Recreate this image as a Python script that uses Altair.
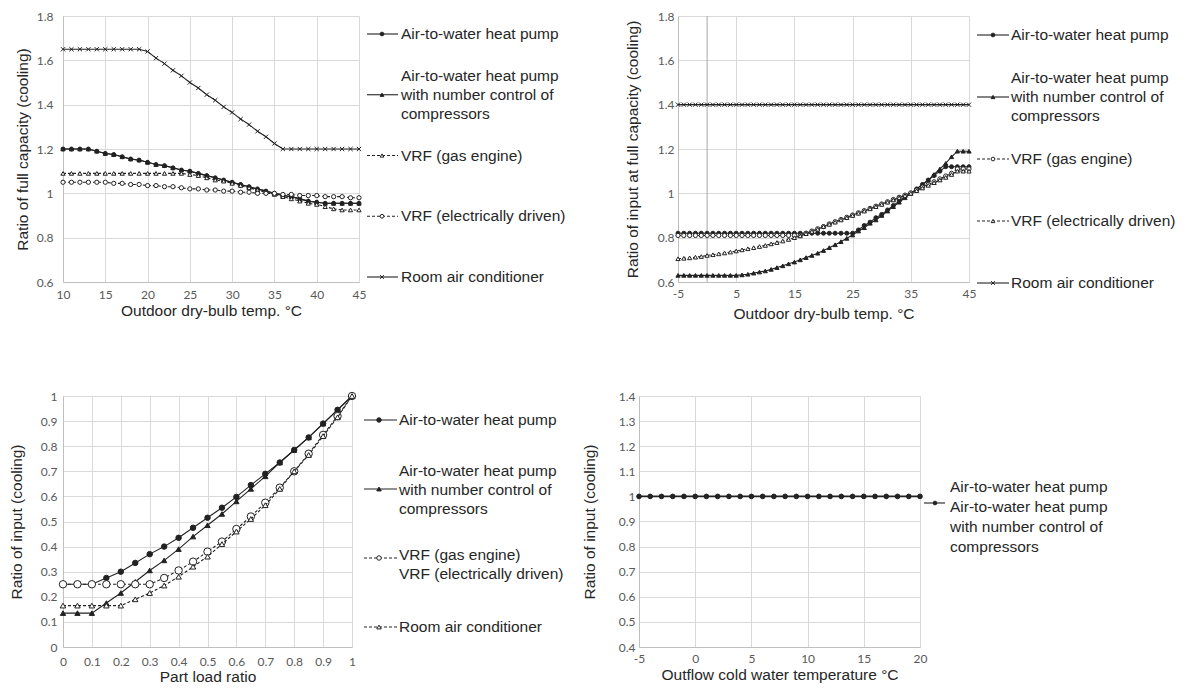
import altair as alt
import pandas as pd

# ---------------- data ----------------
# Top-left: ratio of full capacity (cooling) vs outdoor dry-bulb temp
tl_x = list(range(10, 46))
tl_hp = [1.20, 1.20, 1.20, 1.20, 1.19, 1.18, 1.175, 1.165, 1.155, 1.15,
         1.14, 1.13, 1.125, 1.115, 1.105, 1.10, 1.09, 1.08, 1.07, 1.06,
         1.05, 1.04, 1.03, 1.02, 1.01, 1.00, 0.99, 0.985, 0.975, 0.965,
         0.96, 0.955, 0.955, 0.955, 0.955, 0.955]
tl_nc = [1.20, 1.20, 1.20, 1.20, 1.19, 1.18, 1.175, 1.165, 1.155, 1.15,
         1.14, 1.13, 1.125, 1.115, 1.105, 1.10, 1.09, 1.08, 1.07, 1.06,
         1.05, 1.04, 1.03, 1.02, 1.01, 1.00, 0.99, 0.985, 0.975, 0.965,
         0.96, 0.955, 0.955, 0.955, 0.955, 0.955]
tl_gas = [1.09, 1.09, 1.09, 1.09, 1.09, 1.09, 1.09, 1.09, 1.09, 1.09,
          1.09, 1.09, 1.09, 1.09, 1.09, 1.085, 1.08, 1.07, 1.06, 1.055,
          1.045, 1.035, 1.025, 1.015, 1.005, 0.995, 0.985, 0.975, 0.965, 0.955,
          0.95, 0.94, 0.93, 0.925, 0.925, 0.925]
tl_elec = [1.05, 1.05, 1.05, 1.05, 1.05, 1.05, 1.045, 1.045, 1.04, 1.04,
           1.035, 1.035, 1.03, 1.03, 1.025, 1.02, 1.02, 1.015, 1.015, 1.01,
           1.01, 1.005, 1.005, 1.0, 1.0, 1.0, 0.995, 0.995, 0.99, 0.99,
           0.99, 0.985, 0.985, 0.985, 0.98, 0.98]
tl_rac = [1.65, 1.65, 1.65, 1.65, 1.65, 1.65, 1.65, 1.65, 1.65, 1.65,
          1.64, 1.61, 1.585, 1.555, 1.53, 1.50, 1.475, 1.445, 1.42, 1.39,
          1.365, 1.335, 1.31, 1.28, 1.255, 1.225, 1.20, 1.20, 1.20, 1.20,
          1.20, 1.20, 1.20, 1.20, 1.20, 1.20]

# Top-right: ratio of input at full capacity (cooling)
tr_x = list(range(-5, 46))
tr_hp = [0.82, 0.82, 0.82, 0.82, 0.82, 0.82, 0.82, 0.82, 0.82, 0.82,
         0.82, 0.82, 0.82, 0.82, 0.82, 0.82, 0.82, 0.82, 0.82, 0.82,
         0.82, 0.82, 0.82, 0.82, 0.82, 0.82, 0.82, 0.82, 0.82, 0.82,
         0.82, 0.835, 0.855, 0.87, 0.89, 0.905, 0.925, 0.945, 0.965, 0.985,
         1.0, 1.02, 1.04, 1.06, 1.08, 1.10, 1.12, 1.12, 1.12, 1.12,
         1.12]
tr_nc = [0.63, 0.63, 0.63, 0.63, 0.63, 0.63, 0.63, 0.63, 0.63, 0.63,
         0.63, 0.632, 0.635, 0.64, 0.645, 0.65, 0.657, 0.665, 0.673, 0.682,
         0.69, 0.70, 0.71, 0.72, 0.73, 0.742, 0.755, 0.768, 0.782, 0.797,
         0.812, 0.83, 0.845, 0.865, 0.88, 0.90, 0.92, 0.94, 0.96, 0.98,
         1.0, 1.02, 1.04, 1.06, 1.085, 1.11, 1.135, 1.165, 1.19, 1.19,
         1.19]
tr_gas = [0.81, 0.81, 0.81, 0.81, 0.81, 0.81, 0.81, 0.81, 0.81, 0.81,
          0.81, 0.81, 0.81, 0.81, 0.81, 0.81, 0.81, 0.81, 0.81, 0.81,
          0.81, 0.81, 0.82, 0.83, 0.84, 0.85, 0.862, 0.872, 0.882, 0.892,
          0.902, 0.912, 0.922, 0.932, 0.942, 0.952, 0.962, 0.972, 0.982, 0.992,
          1.002, 1.015, 1.028, 1.04, 1.052, 1.065, 1.078, 1.09, 1.11, 1.11,
          1.11]
tr_elec = [0.705, 0.707, 0.709, 0.712, 0.715, 0.72, 0.723, 0.727, 0.731, 0.735,
           0.74, 0.745, 0.75, 0.755, 0.76, 0.765, 0.772, 0.778, 0.785, 0.792,
           0.80, 0.808, 0.818, 0.828, 0.838, 0.85, 0.86, 0.87, 0.88, 0.89,
           0.90, 0.91, 0.92, 0.93, 0.94, 0.95, 0.96, 0.97, 0.98, 0.99,
           1.0, 1.012, 1.024, 1.036, 1.048, 1.06, 1.072, 1.085, 1.10, 1.10,
           1.10]
tr_rac = [1.4, 1.4, 1.4, 1.4, 1.4, 1.4, 1.4, 1.4, 1.4, 1.4,
          1.4, 1.4, 1.4, 1.4, 1.4, 1.4, 1.4, 1.4, 1.4, 1.4,
          1.4, 1.4, 1.4, 1.4, 1.4, 1.4, 1.4, 1.4, 1.4, 1.4,
          1.4, 1.4, 1.4, 1.4, 1.4, 1.4, 1.4, 1.4, 1.4, 1.4,
          1.4, 1.4, 1.4, 1.4, 1.4, 1.4, 1.4, 1.4, 1.4, 1.4,
          1.4]
tr_zero = [0]

# Bottom-left: ratio of input (cooling) vs part load ratio
bl_x = [0.0, 0.05, 0.1, 0.15, 0.2, 0.25, 0.3, 0.35, 0.4, 0.45, 0.5,
        0.55, 0.6, 0.65, 0.7, 0.75, 0.8, 0.85, 0.9, 0.95, 1.0]
bl_hp = [0.25, 0.25, 0.25, 0.275, 0.30, 0.335, 0.37, 0.40, 0.435, 0.475, 0.515,
         0.555, 0.598, 0.645, 0.69, 0.735, 0.785, 0.835, 0.89, 0.945, 1.0]
bl_nc = [0.135, 0.135, 0.135, 0.175, 0.215, 0.26, 0.305, 0.345, 0.39, 0.44, 0.485,
         0.53, 0.58, 0.63, 0.68, 0.735, 0.785, 0.835, 0.89, 0.945, 1.0]
bl_vrf = [0.25, 0.25, 0.25, 0.25, 0.25, 0.25, 0.25, 0.275, 0.305, 0.34, 0.38,
          0.42, 0.47, 0.52, 0.575, 0.635, 0.70, 0.77, 0.845, 0.92, 1.0]
bl_rac = [0.165, 0.165, 0.165, 0.165, 0.165, 0.19, 0.215, 0.245, 0.28, 0.32, 0.36,
          0.41, 0.46, 0.51, 0.565, 0.63, 0.70, 0.765, 0.84, 0.915, 1.0]

# Bottom-right: ratio of input (cooling) vs outflow cold water temperature
br_x = list(range(-5, 21))
br_hp = [1.0, 1.0, 1.0, 1.0, 1.0, 1.0, 1.0, 1.0, 1.0, 1.0,
         1.0, 1.0, 1.0, 1.0, 1.0, 1.0, 1.0, 1.0, 1.0, 1.0,
         1.0, 1.0, 1.0, 1.0, 1.0, 1.0]

# tick values
tl_xticks = [10, 15, 20, 25, 30, 35, 40, 45]
tl_yticks = [0.6, 0.8, 1.0, 1.2, 1.4, 1.6, 1.8]
tr_xticks = [-5, 0, 5, 10, 15, 20, 25, 30, 35, 40, 45]
tr_yticks = [0.6, 0.8, 1.0, 1.2, 1.4, 1.6, 1.8]
bl_xticks = [0, 0.1, 0.2, 0.3, 0.4, 0.5, 0.6, 0.7, 0.8, 0.9, 1.0]
bl_yticks = [0, 0.1, 0.2, 0.3, 0.4, 0.5, 0.6, 0.7, 0.8, 0.9, 1.0]
br_xticks = [-5, 0, 5, 10, 15, 20]
br_yticks = [0.4, 0.5, 0.6, 0.7, 0.8, 0.9, 1.0, 1.1, 1.2, 1.3, 1.4]

# legend labels
L_HP = "Air-to-water heat pump"
L_NC = "Air-to-water heat pump\nwith number control of\ncompressors"
L_GAS = "VRF (gas engine)"
L_ELEC = "VRF (electrically driven)"
L_RAC = "Room air conditioner"
L_VRF2 = "VRF (gas engine)\nVRF (electrically driven)"
L_BR = "Air-to-water heat pump\nAir-to-water heat pump\nwith number control of\ncompressors"

# ---------------- styling ----------------
INK = "#222222"
XMARK = "M-1,-1L1,1M-1,1L1,-1"
DASH = [3, 2]
TEXT_FONT = "Liberation Sans"
TEXT_SIZE = 15.5


def style(key, label, vals, shape, fill, dash, size):
    return {"key": key, "label": label, "vals": vals, "shape": shape,
            "fill": fill, "dash": dash, "size": size}


def make_axis(values, title, lpad, tpad):
    return alt.Axis(values=values, title=title, grid=True, ticks=False,
                    labelPadding=lpad, titlePadding=tpad,
                    labelExpr="'' + datum.value",
                    labelFlush=False, labelOverlap=False)


def panel(x, styles, xdom, xticks, xtitle, xpads, ydom, yticks, ytitle, ypads,
          w, h, lw=1.1, extra=None):
    rows = []
    for st in styles:
        for xi, yi in zip(x, st["vals"]):
            rows.append({"series": st["key"], "x": xi, "y": yi})
    df = pd.DataFrame(rows)
    xenc = alt.X("x:Q", scale=alt.Scale(domain=xdom, nice=False, zero=False),
                 axis=make_axis(xticks, xtitle, *xpads))
    yenc = alt.Y("y:Q", scale=alt.Scale(domain=ydom, nice=False, zero=False),
                 axis=make_axis(yticks, ytitle, *ypads))
    base = alt.Chart(df).encode(x=xenc, y=yenc)
    layers = []
    if extra is not None:
        layers.append(extra)
    for st in styles:
        sel = base.transform_filter(alt.datum.series == st["key"])
        lkw = dict(color=INK, strokeWidth=lw)
        if st["dash"]:
            lkw["strokeDash"] = st["dash"]
        layers.append(sel.mark_line(**lkw))
        if st["shape"] == XMARK:
            pt = sel.mark_point(shape=XMARK, size=st["size"], filled=False,
                                stroke=INK, strokeWidth=1, opacity=1)
        else:
            pt = sel.mark_point(shape=st["shape"], size=st["size"], filled=True,
                                fill=st["fill"], stroke=INK, strokeWidth=1,
                                opacity=1)
        layers.append(pt)
    return alt.layer(*layers).properties(width=w, height=h)


def legend(entries, w, h, yrange, x0, x1, xm, xt, msize, lh=19):
    keys = [e["key"] for e in entries]
    ysc = alt.Scale(type="point", domain=keys, range=yrange, padding=0)
    layers = []
    for e in entries:
        d = pd.DataFrame({"key": [e["key"]], "label": [e["label"]]})
        b = alt.Chart(d).encode(y=alt.Y("key:N", scale=ysc, axis=None))
        rkw = dict(color=INK, strokeWidth=1.1)
        if e["dash"]:
            rkw["strokeDash"] = e["dash"]
        layers.append(b.mark_rule(**rkw).encode(x=alt.value(x0), x2=alt.value(x1)))
        if e["shape"] == XMARK:
            layers.append(b.mark_point(shape=XMARK, size=msize, filled=False,
                                       stroke=INK, strokeWidth=1, opacity=1)
                          .encode(x=alt.value(xm)))
        else:
            layers.append(b.mark_point(shape=e["shape"], size=msize, filled=True,
                                       fill=e["fill"], stroke=INK, strokeWidth=1,
                                       opacity=1).encode(x=alt.value(xm)))
        layers.append(b.mark_text(align="left", baseline="middle", lineBreak="\n",
                                  lineHeight=lh, font=TEXT_FONT, fontSize=TEXT_SIZE,
                                  color="#262626", dy=e.get("dy", 0))
                      .encode(x=alt.value(xt), text="label:N"))
    return alt.layer(*layers).properties(width=w, height=h)


# ---------------- top-left ----------------
tl_styles = [
    style("hp", L_HP, tl_hp, "circle", INK, None, 16),
    style("nc", L_NC, tl_nc, "triangle-up", INK, None, 18),
    style("gas", L_GAS, tl_gas, "triangle-up", "white", DASH, 18),
    style("elec", L_ELEC, tl_elec, "circle", "white", DASH, 18),
    style("rac", L_RAC, tl_rac, XMARK, INK, None, 18),
]
p1 = panel(tl_x, tl_styles, [10, 45], tl_xticks, "Outdoor dry-bulb temp. °C", (7, 3),
           [0.6, 1.8], tl_yticks, "Ratio of full capacity (cooling)", (10, 6), 296, 266)
tl_leg = [dict(tl_styles[0]), dict(tl_styles[1], dy=-19), dict(tl_styles[2]),
          dict(tl_styles[3]), dict(tl_styles[4])]
l1 = legend(tl_leg, 303, 266, [18, 261], 0, 31, 15, 34, 14)

# ---------------- top-right ----------------
tr_styles = [
    style("hp", L_HP, tr_hp, "circle", INK, None, 16),
    style("nc", L_NC, tr_nc, "triangle-up", INK, None, 18),
    style("gas", L_GAS, tr_gas, "circle", "white", DASH, 18),
    style("elec", L_ELEC, tr_elec, "triangle-up", "white", DASH, 18),
    style("rac", L_RAC, tr_rac, XMARK, INK, None, 18),
]
zero_rule = alt.Chart(pd.DataFrame({"x": tr_zero})).mark_rule(
    color="#a6a6a6", strokeWidth=1).encode(x="x:Q")
p2 = panel(tr_x, tr_styles, [-5, 45], tr_xticks, "Outdoor dry-bulb temp. °C", (6, 7),
           [0.6, 1.8], tr_yticks, "Ratio of input at full capacity (cooling)", (4, 17),
           291, 266, extra=zero_rule)
tr_leg = [dict(tr_styles[0]), dict(tr_styles[1], dy=-19), dict(tr_styles[2]),
          dict(tr_styles[3]), dict(tr_styles[4])]
l2 = legend(tr_leg, 200, 266, [19, 267], 0, 32, 16, 34, 14)

# ---------------- bottom-left ----------------
bl_styles = [
    style("hp", L_HP, bl_hp, "circle", INK, None, 30),
    style("nc", L_NC, bl_nc, "triangle-up", INK, None, 28),
    style("vrf", L_VRF2, bl_vrf, "circle", "white", DASH, 55),
    style("rac", L_RAC, bl_rac, "triangle-up", "white", DASH, 30),
]
p3 = panel(bl_x, bl_styles, [0, 1], bl_xticks, "Part load ratio", (9, 2),
           [0, 1], bl_yticks, "Ratio of input (cooling)", (6, 16), 289, 251)
bl_leg = [
    dict(bl_styles[0]), dict(bl_styles[1], dy=-18), dict(bl_styles[2], dy=-3),
    dict(bl_styles[3]),
]
l3 = legend(bl_leg, 271, 251, [24, 231], 4, 37, 19, 39, 20, lh=19)

# ---------------- bottom-right ----------------
br_styles = [style("hp", L_BR, br_hp, "circle", INK, None, 22)]
p4 = panel(br_x, br_styles, [-5, 20], br_xticks, "Outflow cold water temperature °C", (6, 3),
           [0.4, 1.4], br_yticks, "Ratio of input (cooling)", (4, 21), 281, 251, lw=1.6)
br_leg = [dict(br_styles[0], dy=-16)]
l4 = legend(br_leg, 230, 251, [107, 107], -4, 17, 7, 22, 14, lh=20)

row1 = alt.hconcat(p1, l1, p2, l2, spacing=8, bounds="flush")
row2 = alt.hconcat(p3, l3, p4, l4, spacing=8, bounds="flush")

chart = alt.vconcat(row1, row2, spacing=67).properties(
    padding={"left": 0, "top": 1, "right": 0, "bottom": 0}
).configure_view(stroke="transparent").configure_axis(
    labelFont="Lato", labelFontSize=12, labelColor="#595959",
    titleFont=TEXT_FONT, titleFontSize=TEXT_SIZE, titleFontWeight="normal",
    titleColor="#262626", gridColor="#d9d9d9", gridWidth=1,
    domainColor="#bfbfbf", domainWidth=1,
)

chart.save("out.html", embed_options={"renderer": "svg", "actions": False})
